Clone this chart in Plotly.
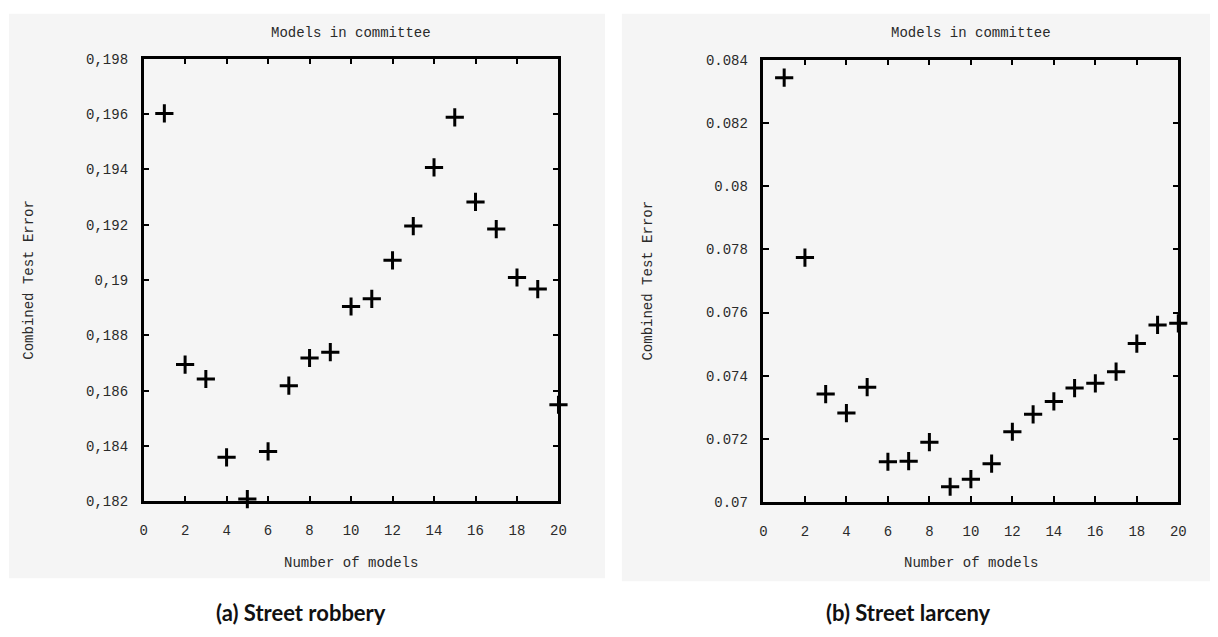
import plotly.graph_objects as go

# Committee size vs. combined test error for two crime categories
n_models = list(range(1, 21))

robbery_error = [0.19602, 0.18694, 0.18642, 0.18359, 0.18208, 0.18380, 0.18618,
                 0.18718, 0.18739, 0.18904, 0.18932, 0.19071, 0.19195, 0.19407,
                 0.19588, 0.19282, 0.19184, 0.19009, 0.18967, 0.18549]

larceny_error = [0.08343, 0.07774, 0.07342, 0.07282, 0.07364, 0.07128, 0.07130,
                 0.07190, 0.07049, 0.07073, 0.07122, 0.07223, 0.07278, 0.07319,
                 0.07361, 0.07376, 0.07413, 0.07502, 0.07561, 0.07566]

x_ticks = list(range(0, 21, 2))
robbery_ticks = [0.182, 0.184, 0.186, 0.188, 0.190, 0.192, 0.194, 0.196, 0.198]
robbery_tick_text = ["0,182", "0,184", "0,186", "0,188", "0,19", "0,192", "0,194", "0,196", "0,198"]
larceny_ticks = [0.070, 0.072, 0.074, 0.076, 0.078, 0.080, 0.082, 0.084]
larceny_tick_text = ["0.07", "0.072", "0.074", "0.076", "0.078", "0.08", "0.082", "0.084"]

W, H = 1218, 637
MONO = "Liberation Mono, DejaVu Sans Mono, monospace"
TXT = "#2a2a2a"
PANEL = "#f5f5f5"


def px(x):
    return x / W


def py(y):
    return 1 - y / H


# plot boxes in pixel space: (left, top, right, bottom)
box_a = (141, 53, 560, 507)
box_b = (767, 54, 1186, 508)

fig = go.Figure()

marker = dict(symbol="cross-thin", size=13, color="black",
              line=dict(width=3, color="black"))

fig.add_trace(go.Scatter(x=n_models, y=robbery_error, mode="markers",
                         marker=marker, xaxis="x", yaxis="y",
                         cliponaxis=False, showlegend=False))
fig.add_trace(go.Scatter(x=n_models, y=larceny_error, mode="markers",
                         marker=marker, xaxis="x2", yaxis="y2",
                         cliponaxis=False, showlegend=False))

axis_common = dict(showline=True, linecolor="black", linewidth=2.5, mirror="ticks",
                   ticks="inside", ticklen=6, tickwidth=2, tickcolor="black",
                   showgrid=False, zeroline=False,
                   tickfont=dict(family=MONO, size=14, color=TXT))

fig.update_layout(
    width=W, height=H,
    margin=dict(l=0, r=0, t=0, b=0),
    paper_bgcolor="white",
    plot_bgcolor="rgba(0,0,0,0)",
    xaxis=dict(domain=[px(box_a[0]), px(box_a[2])], range=[0, 20],
               tickvals=x_ticks, ticklabelstandoff=14, anchor="y", **axis_common),
    yaxis=dict(domain=[py(box_a[3]), py(box_a[1])], range=[0.182, 0.198],
               tickvals=robbery_ticks, ticktext=robbery_tick_text,
               ticklabelstandoff=10, anchor="x", **axis_common),
    xaxis2=dict(domain=[px(box_b[0]), px(box_b[2])], range=[0, 20],
                tickvals=x_ticks, ticklabelstandoff=14, anchor="y2", **axis_common),
    yaxis2=dict(domain=[py(box_b[3]), py(box_b[1])], range=[0.070, 0.084],
                tickvals=larceny_ticks, ticktext=larceny_tick_text,
                ticklabelstandoff=10, anchor="x2", **axis_common),
)

# light grey panels behind each chart
for (x0, y0, x1, y1) in [(5, 7, 607, 586), (624, 7, 1218, 589)]:
    fig.add_shape(type="rect", xref="paper", yref="paper",
                  x0=px(x0), x1=px(x1), y0=py(y1), y1=py(y0),
                  fillcolor=PANEL, line=dict(width=0), layer="below")

mono = dict(family=MONO, size=14, color=TXT)
for box, ylab_x, caption, cap_x in [(box_a, 25, "(a) Street robbery", 300),
                                    (box_b, 650, "(b) Street larceny", 913)]:
    cx = (box[0] + box[2]) / 2
    cy = (box[1] + box[3]) / 2
    fig.add_annotation(text="Models in committee", x=px(cx), y=py(27),
                       xref="paper", yref="paper", showarrow=False, font=mono,
                       xanchor="center", yanchor="middle")
    fig.add_annotation(text="Number of models", x=px(cx), y=py(570),
                       xref="paper", yref="paper", showarrow=False, font=mono,
                       xanchor="center", yanchor="middle")
    fig.add_annotation(text="Combined Test Error", x=px(ylab_x), y=py(cy),
                       xref="paper", yref="paper", showarrow=False, font=mono,
                       textangle=-90, xanchor="center", yanchor="middle")
    fig.add_annotation(text="<b>" + caption + "</b>", x=px(cap_x), y=py(621),
                       xref="paper", yref="paper", showarrow=False,
                       font=dict(family="Lato, Open Sans, sans-serif", size=22, color="#111"),
                       xanchor="center", yanchor="middle")

fig.write_html("out.html")
